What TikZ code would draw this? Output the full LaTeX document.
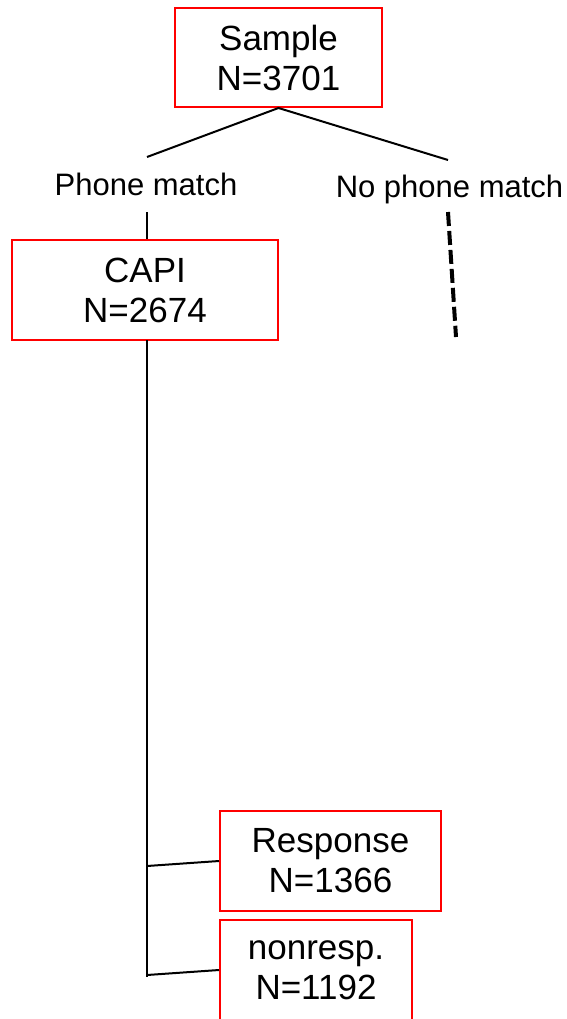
\documentclass[tikz,border=0pt]{standalone}
\usepackage{fontspec}
\setmainfont{Liberation Sans}
\begin{document}
\begin{tikzpicture}[x=1pt,y=-1pt,
  box/.style={draw=red, line width=2pt, align=center, inner sep=0pt,
              font=\fontsize{35}{40}\selectfont},
  lbl/.style={inner sep=0pt, anchor=base, font=\fontsize{31}{36}\selectfont},
  link/.style={line width=2pt},
  pending/.style={line width=4pt, dash pattern=on 14pt off 5pt}]
\useasboundingbox (0,0) rectangle (566,1019);
\clip (0,0) rectangle (566,1019);

% boxes
\node[box, minimum width=207pt, minimum height=99pt] (sample) at (278.5,57.5) {Sample\\N=3701};
\node[box, minimum width=266pt, minimum height=100pt] (capi) at (145,290) {CAPI\\N=2674};
\node[box, minimum width=221pt, minimum height=100pt] (resp) at (330.5,861) {Response\\N=1366};
\node[box, minimum width=192pt, minimum height=100pt] (nonresp) at (316,970) {nonresp.\\N=1192};

% branch labels
\node[lbl] (match) at (146,196) {Phone match};
\node[lbl] (nomatch) at (449.5,197) {No phone match};

% connector end points
\coordinate (matchTop) at (147,157);
\coordinate (nomatchTop) at (448,160);
\coordinate (matchBot) at (147,212);
\coordinate (nomatchBot) at (448,212);
\coordinate (nomatchEnd) at (456,337);
\coordinate (trunkTop) at (147,340);
\coordinate (trunkEnd) at (147,977);
\coordinate (respFork) at (147,866);
\coordinate (nonrespFork) at (147,975);

% connectors
\draw[link] (matchTop) -- (sample.south) -- (nomatchTop);
\draw[link] (matchBot) -- (capi.north -| matchBot);
\draw[link] (trunkTop) -- (trunkEnd);
\draw[link] (respFork) -- (resp.west);
\draw[link] (nonrespFork) -- (nonresp.west);
\draw[pending] (nomatchBot) -- (nomatchEnd);
\end{tikzpicture}
\end{document}
